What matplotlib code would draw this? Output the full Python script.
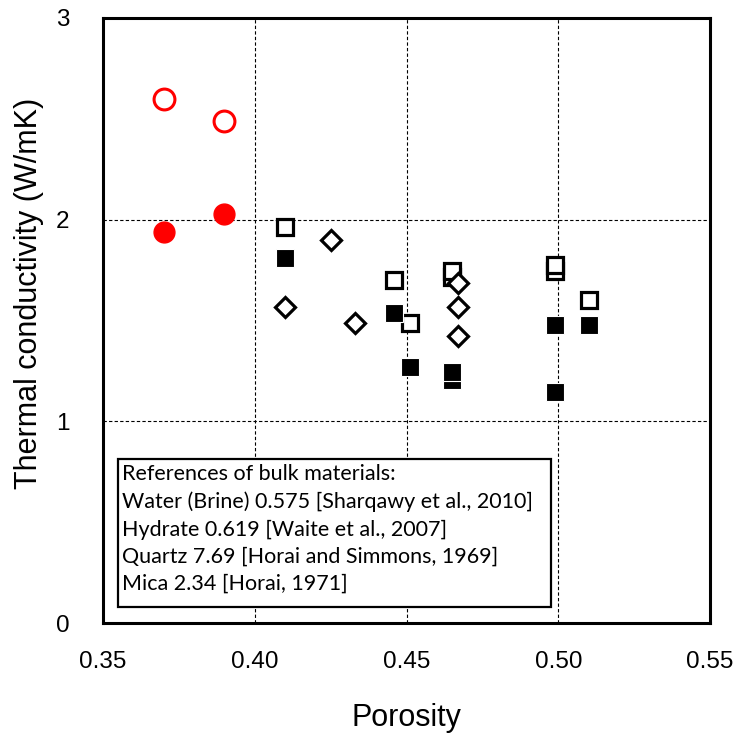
import matplotlib.pyplot as plt
from matplotlib.patches import Rectangle

# red circles
red_x = [0.37, 0.39]
red_open_y = [2.60, 2.49]
red_fill_y = [1.94, 2.03]

# open squares
osq_x = [0.41, 0.446, 0.451, 0.465, 0.465, 0.499, 0.499, 0.51]
osq_y = [1.965, 1.70, 1.49, 1.714, 1.747, 1.747, 1.773, 1.60]

# filled squares
fsq_x = [0.41, 0.446, 0.451, 0.465, 0.465, 0.499, 0.499, 0.51]
fsq_y = [1.81, 1.535, 1.27, 1.206, 1.246, 1.476, 1.145, 1.476]

# open diamonds
dia_x = [0.41, 0.425, 0.433, 0.467, 0.467, 0.467]
dia_y = [1.565, 1.90, 1.486, 1.684, 1.565, 1.424]

box_lines = [
    "References of bulk materials:",
    "Water (Brine) 0.575 [Sharqawy et al., 2010]",
    "Hydrate 0.619 [Waite et al., 2007]",
    "Quartz 7.69 [Horai and Simmons, 1969]",
    "Mica 2.34 [Horai, 1971]",
]

plt.rcParams['font.family'] = ['Liberation Sans', 'DejaVu Sans']

fig = plt.figure(figsize=(7.34, 7.33), dpi=100)
ax = fig.add_axes([103/734, 110/733, 607/734, 605/733])

ax.plot(red_x, red_open_y, 'o', ls='none', ms=15, mfc='white', mec='red', mew=2.2, zorder=3)
ax.plot(red_x, red_fill_y, 'o', ls='none', ms=15, mfc='red', mec='red', mew=1, zorder=3)
for x, y in zip(osq_x, osq_y):
    ax.plot(x, y, 's', ms=11.5, mfc='white', mec='black', mew=2.3, zorder=3)
for x, y in zip(fsq_x, fsq_y):
    ax.plot(x, y, 's', ms=13.5, mfc='black', mec='white', mew=0.8, zorder=3)
ax.plot(dia_x, dia_y, 'D', ls='none', ms=10, mfc='white', mec='black', mew=2.3, zorder=3)

ax.set_xlim(0.35, 0.55)
ax.set_ylim(0, 3)
ax.set_xticks([0.35, 0.40, 0.45, 0.50, 0.55])
ax.set_xticklabels(["0.35", "0.40", "0.45", "0.50", "0.55"])
ax.set_yticks([0, 1, 2, 3])
ax.tick_params(length=0, labelsize=17.5, pad=20)
ax.tick_params(axis='y', pad=24)
ax.grid(True, color='black', ls=(0, (3, 2)), lw=0.8)
for s in ax.spines.values():
    s.set_linewidth(2.2)

ax.set_xlabel("Porosity", fontsize=22, labelpad=22)
ax.set_ylabel("Thermal conductivity (W/mK)", fontsize=22)
ax.yaxis.set_label_coords(-0.097, 0.545)

ax.add_patch(Rectangle((0.0247, 0.026), 0.713, 0.245, transform=ax.transAxes,
                       facecolor='white', edgecolor='black', lw=1.6, zorder=4))
ax.text(0.031, 0.262, "\n".join(box_lines), transform=ax.transAxes, va='top', ha='left',
        fontsize=15.5, family=['Lato', 'DejaVu Sans'], linespacing=1.44, zorder=5)

fig.savefig("out.png", dpi=100)
